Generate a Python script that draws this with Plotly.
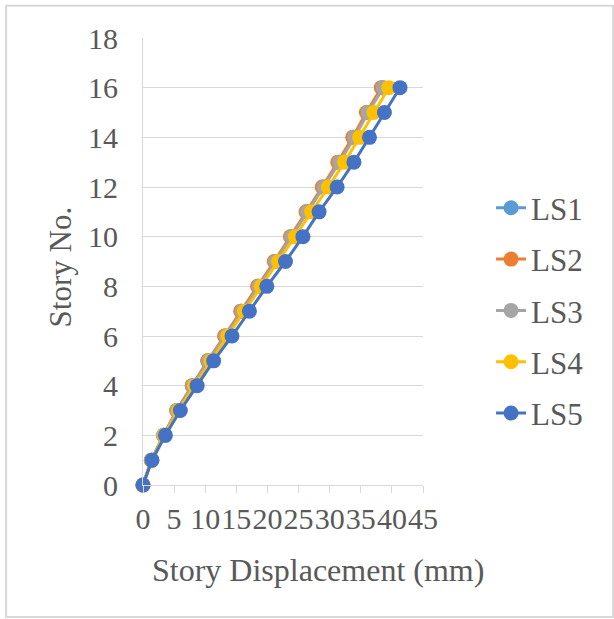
import plotly.graph_objects as go

stories = list(range(0, 17))
ls1 = [0, 1.35, 3.3, 5.45, 7.95, 10.45, 13.2, 15.8, 18.5, 21.2, 23.8, 26.3, 28.95, 31.45, 33.85, 36.05, 38.45]
ls2 = [0, 1.35, 3.3, 5.4, 7.9, 10.4, 13.1, 15.7, 18.4, 21.1, 23.7, 26.2, 28.8, 31.3, 33.7, 35.9, 38.3]
ls3 = [0, 1.35, 3.3, 5.5, 8.0, 10.5, 13.3, 15.9, 18.6, 21.3, 23.9, 26.4, 29.1, 31.6, 34.0, 36.2, 38.6]
ls4 = [0, 1.4, 3.4, 5.7, 8.3, 10.9, 13.6, 16.3, 19.0, 21.8, 24.5, 27.1, 29.8, 32.4, 34.8, 37.1, 39.5]
ls5 = [0, 1.45, 3.6, 6.0, 8.7, 11.35, 14.3, 17.1, 19.9, 22.9, 25.7, 28.3, 31.2, 33.9, 36.4, 38.8, 41.3]

series_names = ["LS1", "LS2", "LS3", "LS4", "LS5"]
series_values = [ls1, ls2, ls3, ls4, ls5]
colors = ["#5B9BD5", "#ED7D31", "#A5A5A5", "#FFC000", "#4472C4"]

x_ticks = [0, 5, 10, 15, 20, 25, 30, 35, 40, 45]
y_ticks = [0, 2, 4, 6, 8, 10, 12, 14, 16, 18]

x_title = "Story Displacement (mm)"
y_title = "Story No."

FONT = "Liberation Serif"
TXT = "#595959"

fig = go.Figure()
for name, vals, c in zip(series_names, series_values, colors):
    fig.add_trace(go.Scatter(
        x=vals, y=stories, name=name, mode="lines+markers",
        line=dict(color=c, width=3),
        marker=dict(color=c, size=15),
        cliponaxis=False, legendgroup=name,
    ))

fig.update_layout(
    width=614, height=619,
    margin=dict(l=143, r=191, t=38, b=134),
    paper_bgcolor="white", plot_bgcolor="white",
    font=dict(family=FONT, size=31, color=TXT),
    showlegend=True,
    legend=dict(x=1.243, y=0.39, xanchor="left", yanchor="middle",
                font=dict(family=FONT, size=31, color=TXT),
                tracegroupgap=8, bgcolor="rgba(0,0,0,0)", itemwidth=30),
    xaxis=dict(range=[0, 45], tickvals=x_ticks, ticktext=[str(v) for v in x_ticks],
               tickangle=0, showgrid=False, zeroline=False,
               showline=True, linecolor="#d9d9d9", linewidth=1,
               ticks="outside", ticklen=7, tickcolor="#d9d9d9",
               tickfont=dict(family=FONT, size=30, color=TXT),
               automargin=False),
    yaxis=dict(range=[0, 18], tickvals=y_ticks, ticktext=[str(v) for v in y_ticks],
               showgrid=True, gridcolor="#d9d9d9", gridwidth=1, zeroline=False,
               showline=True, linecolor="#d9d9d9", linewidth=1,
               ticks="", ticklabelstandoff=18,
               tickfont=dict(family=FONT, size=30, color=TXT),
               automargin=False),
    annotations=[
        dict(text=x_title, xref="paper", yref="paper", x=0.625, y=-0.19,
             xanchor="center", yanchor="middle", showarrow=False,
             font=dict(family=FONT, size=32, color=TXT)),
        dict(text=y_title, xref="paper", yref="paper", x=-0.296, y=0.487,
             xanchor="center", yanchor="middle", showarrow=False, textangle=-90,
             font=dict(family=FONT, size=31, color=TXT)),
    ],
    shapes=[dict(type="rect", xref="paper", yref="paper",
                 x0=-0.489, x1=1.679, y0=-0.2955, y1=1.072,
                 line=dict(color="#d9d9d9", width=2), fillcolor="rgba(0,0,0,0)",
                 layer="below")],
)

fig.write_html("out.html")
